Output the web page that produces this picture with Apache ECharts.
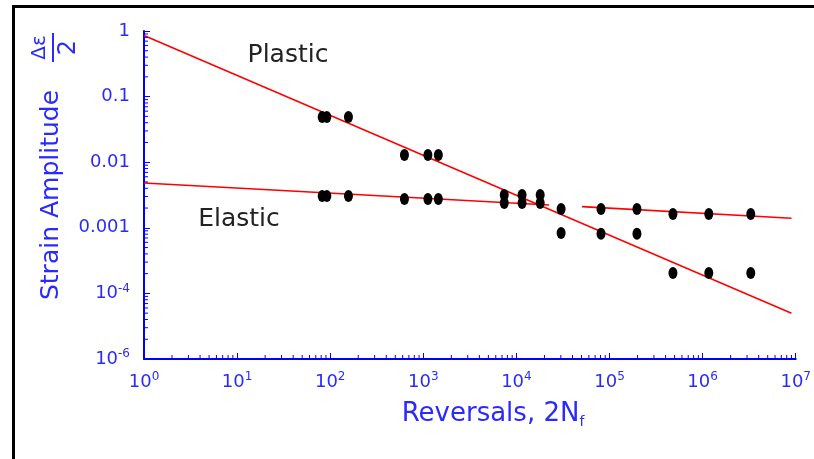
<!DOCTYPE html>
<html><head><meta charset="utf-8">
<script src="https://cdn.jsdelivr.net/npm/echarts@6/dist/echarts.min.js"></script>
<style>html,body{margin:0;padding:0;background:#fff}#c{width:814px;height:459px}</style>
</head><body><div id="c"></div>
<script>
// ---- data ----
const pointsX = [82, 92, 157, 627, 1120, 1450, 7400, 11500, 18000, 30200, 81000, 197000, 480000, 1165000, 3290000];
const plasticY = [0.049, 0.049, 0.049, 0.0129, 0.0129, 0.0129, 0.00316, 0.00316, 0.00316, 0.00083, 0.00081, 0.00081, 0.000205, 0.000205, 0.000205];
const elasticY = [0.00305, 0.00305, 0.00305, 0.00275, 0.00275, 0.00275, 0.00239, 0.00239, 0.00239, 0.00194, 0.00194, 0.00194, 0.00162, 0.00162, 0.00162];
// fitted lines (end points, log-log straight lines)
const plasticLineX = [1, 9.0e6];
const plasticLineY = [0.853, 5.0e-5];
const elasticLineX = [1, 22450, null, 50700, 9.0e6];
const elasticLineY = [0.00483, 0.00223, null, 0.0021, 0.0014];
// axis tick labels
const xTickExp = ['0', '1', '2', '3', '4', '5', '6', '7'];
const yTickTexts = ['{b|10}{s|-6}', '{b|10}{s|-4}', '{b|0.001}', '{b|0.01}', '{b|0.1}', '{b|1}'];
const minorMultipliers = [2, 3, 4, 5, 6, 7, 8, 9];

const BLUE = '#0000ff';
const TXT_BLUE = '#2a2aff';
const FONT = '"DejaVu Sans", sans-serif';

const zip = (xs, ys) => xs.map((x, i) => (x === null ? [null, null] : [x, ys[i]]));

const minorData = [];
for (let k = 0; k < 7; k++) minorMultipliers.forEach(m => minorData.push([m * Math.pow(10, k), 1e-5, 0]));
for (let k = -5; k < 0; k++) minorMultipliers.forEach(m => minorData.push([1, m * Math.pow(10, k), 1]));

const chart = echarts.init(document.getElementById('c'), null, {renderer: 'canvas'});
const richSup = {
  b: {fontSize: 18, fontFamily: FONT, color: TXT_BLUE, lineHeight: 22},
  s: {fontSize: 12, fontFamily: FONT, color: TXT_BLUE, verticalAlign: 'top', lineHeight: 22, padding: [0, 0, 8, 0]}
};
chart.setOption({
  animation: false,
  backgroundColor: '#fff',
  grid: {left: 144, right: 17, top: 31, bottom: 100, containLabel: false},
  xAxis: {
    type: 'log', logBase: 10, min: 1, max: 1e7,
    axisLine: {show: true, lineStyle: {color: BLUE, width: 2}},
    axisTick: {show: true, inside: true, length: 6, lineStyle: {color: BLUE, width: 1}},
    splitLine: {show: false},
    axisLabel: {
      margin: 12, color: TXT_BLUE, rich: richSup,
      formatter: v => '{b|10}{s|' + xTickExp[Math.round(Math.log10(v))] + '}'
    }
  },
  yAxis: {
    type: 'log', logBase: 10, min: 1e-5, max: 1,
    name: 'Strain Amplitude', nameLocation: 'middle', nameRotate: 90, nameGap: 80,
    nameTextStyle: {fontSize: 25, fontFamily: FONT, color: TXT_BLUE},
    axisLine: {show: true, lineStyle: {color: BLUE, width: 2}},
    axisTick: {show: true, inside: true, length: 6, lineStyle: {color: BLUE, width: 1}},
    splitLine: {show: false},
    axisLabel: {
      margin: 14, color: TXT_BLUE, rich: richSup,
      formatter: v => yTickTexts[Math.round(Math.log10(v)) + 5]
    }
  },
  graphic: [
    {type: 'rect', shape: {x: 13.5, y: 6.5, width: 1000, height: 1000}, style: {fill: 'none', stroke: '#000', lineWidth: 3}, silent: true},
    {type: 'group', x: 53, y: 47.5, rotation: Math.PI / 2, children: [
      {type: 'text', x: 0, y: -3, style: {text: 'Δε', fontSize: 20, fontFamily: FONT, fill: TXT_BLUE, align: 'center', verticalAlign: 'bottom'}},
      {type: 'line', shape: {x1: -14.5, y1: 0, x2: 14.5, y2: 0}, style: {stroke: TXT_BLUE, lineWidth: 2}},
      {type: 'text', x: 0, y: 16, style: {text: '2', fontSize: 24, fontFamily: FONT, fill: TXT_BLUE, align: 'center', verticalAlign: 'middle'}}
    ]},
    {type: 'text', x: 493, y: 414, style: {
      text: '{a|Reversals, 2N}{f|f}', align: 'center', verticalAlign: 'middle',
      rich: {
        a: {fontSize: 26, fontFamily: FONT, fill: TXT_BLUE, lineHeight: 30},
        f: {fontSize: 14, fontFamily: FONT, fill: TXT_BLUE, verticalAlign: 'bottom', lineHeight: 30, padding: [8, 0, 0, 0]}
      }
    }},
    {type: 'text', x: 288, y: 55, style: {text: 'Plastic', fontSize: 25, fontFamily: FONT, fill: '#222', align: 'center', verticalAlign: 'middle'}},
    {type: 'text', x: 239, y: 219, style: {text: 'Elastic', fontSize: 25, fontFamily: FONT, fill: '#222', align: 'center', verticalAlign: 'middle'}}
  ],
  series: [
    {type: 'custom', coordinateSystem: 'cartesian2d', clip: false, silent: true, z: 3,
      encode: {x: 0, y: 1}, data: minorData,
      renderItem: (params, api) => {
        const p = api.coord([api.value(0), api.value(1)]);
        const kind = api.value(2);
        const shape = kind === 0 ? {x1: p[0], y1: p[1], x2: p[0], y2: p[1] - 4} : {x1: p[0], y1: p[1], x2: p[0] + 4, y2: p[1]};
        return {type: 'line', shape: shape, style: {stroke: BLUE, lineWidth: 1}};
      }
    },
    {type: 'line', data: zip(plasticLineX, plasticLineY), symbol: 'none', lineStyle: {color: '#ff0000', width: 1.6}, silent: true, z: 2},
    {type: 'line', data: zip(elasticLineX, elasticLineY), symbol: 'none', connectNulls: false, lineStyle: {color: '#ff0000', width: 1.6}, silent: true, z: 2},
    {type: 'scatter', data: zip(pointsX, plasticY), symbol: 'circle', symbolSize: [9, 12], itemStyle: {color: '#000', opacity: 1}, silent: true, z: 4},
    {type: 'scatter', data: zip(pointsX, elasticY), symbol: 'circle', symbolSize: [9, 12], itemStyle: {color: '#000', opacity: 1}, silent: true, z: 4}
  ]
});
</script>
</body></html>
